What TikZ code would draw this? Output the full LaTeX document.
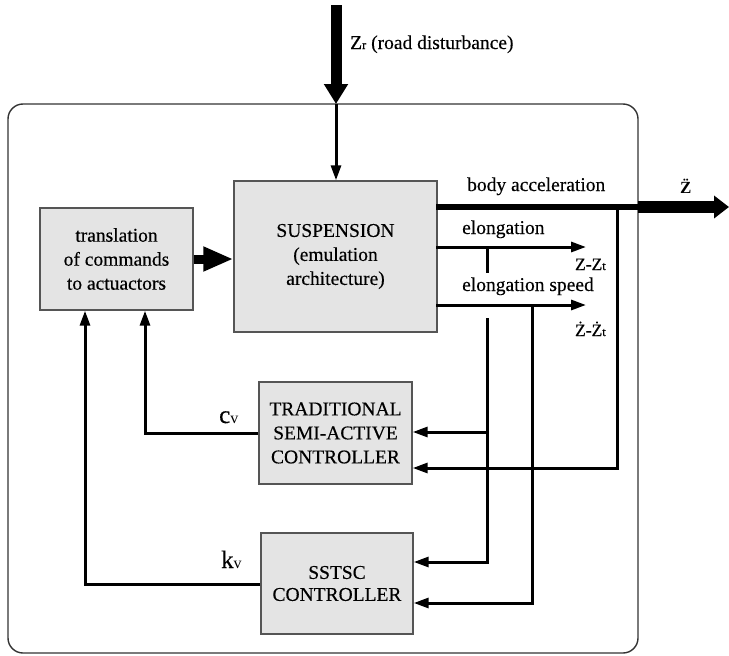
\documentclass[tikz,border=0pt]{standalone}
\usepackage{fontspec}
\setmainfont{Liberation Serif}
\usetikzlibrary{arrows.meta}
\newcommand\lblsize{\fontsize{19.5}{24}\selectfont\addfontfeatures{FakeBold=0.3}}
\newcommand\zsize{\fontsize{17.5}{17.5}\selectfont\addfontfeatures{FakeBold=0.3}}
\newcommand\subsize{\fontsize{12.5}{12.5}\selectfont}
\definecolor{boxfill}{HTML}{E4E4E4}
\definecolor{boxline}{HTML}{555555}
\begin{document}
\begin{tikzpicture}[x=1pt,y=-1pt,
  blk/.style={draw=boxline, fill=boxfill, line width=1.4pt, align=center,
    font=\lblsize, inner sep=0pt},
  conn/.style={line width=3pt, -{Triangle[length=15pt,width=10pt]}},
  wire/.style={line width=3pt},
  lbl/.style={font=\lblsize, inner sep=0pt}
]
\useasboundingbox (0,0) rectangle (729,656);

% outer frame
\coordinate (frameNW) at (8,104);
\coordinate (frameSE) at (638,653);
\draw[draw=black!80, line width=1.4pt, rounded corners=15pt] (frameNW) rectangle (frameSE);

% blocks
\node[blk, minimum width=203pt, minimum height=151pt] (susp) at (335.5,256.5)
  {SUSPENSION\\(emulation\\architecture)};
\node[blk, minimum width=153pt, minimum height=102pt] (trans) at (116.5,259)
  {translation\\of commands\\to actuactors};
\node[blk, minimum width=153pt, minimum height=102pt] (trad) at (335.5,433)
  {TRADITIONAL\\SEMI-ACTIVE\\CONTROLLER};
\node[blk, minimum width=152pt, minimum height=101pt, font=\fontsize{19.5}{22}\selectfont\addfontfeatures{FakeBold=0.3}] (sstsc) at (337,583.5)
  {SSTSC\\CONTROLLER};

% road disturbance
\coordinate (zrtop) at (336,5);
\coordinate (zrin) at (336,104);
\draw[line width=11pt, -{Triangle[length=20pt,width=23pt]}] (zrtop) -- (zrin);
\draw[conn] (zrin) -- (zrin |- susp.north);
\node[lbl, anchor=base west] (zrlbl) at (350,49)
  {Z{\subsize r} (road disturbance)};

% translation -> suspension
\draw[line width=9pt, -{Triangle[length=30pt,width=23pt]}] (trans.east) -- (susp.west |- trans.east);

% body acceleration
\coordinate (bastart) at (436,207);
\coordinate (baout) at (638,207);
\coordinate (baend) at (729,207);
\draw[line width=6pt] (bastart) -- (baout);
\draw[line width=12pt, -{Triangle[length=15pt,width=22pt]}] (baout) -- (baend);
\node[lbl, anchor=base west] (balbl) at (467,191) {body acceleration};
\node[font=\bfseries\fontsize{17}{17}\selectfont, inner sep=0pt, anchor=base west] (zdd) at (680,193) {\"{Z}};

% elongation
\coordinate (elstart) at (436,247);
\coordinate (eltip) at (586,247);
\draw[conn] (elstart) -- (eltip);
\node[lbl, anchor=base west] (ellbl) at (462,234) {elongation};
\node[font=\zsize, inner sep=0pt, anchor=base east] (zzt) at (606,270) {Z-Z{\subsize t}};

% elongation speed
\coordinate (esstart) at (436,305);
\coordinate (estip) at (586,305);
\draw[conn] (esstart) -- (estip);
\node[lbl, anchor=base west] (eslbl) at (462,291) {elongation speed};
\node[font=\zsize, inner sep=0pt, anchor=base east] (dzzt) at (606,336) {\.{Z}-\.{Z}{\subsize t}};

% elongation branch
\coordinate (e1a) at (487,247);
\coordinate (e1b) at (487,273);
\coordinate (e1c) at (487,318);
\coordinate (e1d) at (487,432);
\draw[wire] (e1a) -- (e1b);
\draw[conn] (e1d) -- (trad.east |- e1d);
\draw[conn] (e1c) |- (sstsc.east |- 0,562);

% elongation speed branch
\coordinate (e2a) at (532,305);
\draw[conn] (e2a) |- (sstsc.east |- 0,603);

% body acceleration branch
\coordinate (e3a) at (617,207);
\draw[conn] (e3a) |- (trad.east |- 0,468);

% controller outputs
\coordinate (cvx) at (145,433);
\coordinate (kvx) at (85,584);
\draw[conn] (trad.west |- cvx) -- (cvx) -- (cvx |- trans.south);
\draw[conn] (sstsc.west |- kvx) -- (kvx) -- (kvx |- trans.south);
\node[inner sep=0pt, anchor=base west] (cvlbl) at (219,423)
  {{\fontsize{25}{25}\selectfont\addfontfeatures{FakeBold=0.3}c}{\fontsize{16}{16}\selectfont v}};
\node[inner sep=0pt, anchor=base west] (kvlbl) at (221,568)
  {{\fontsize{25}{25}\selectfont\addfontfeatures{FakeBold=0.3}k}{\fontsize{16}{16}\selectfont v}};
\end{tikzpicture}
\end{document}
